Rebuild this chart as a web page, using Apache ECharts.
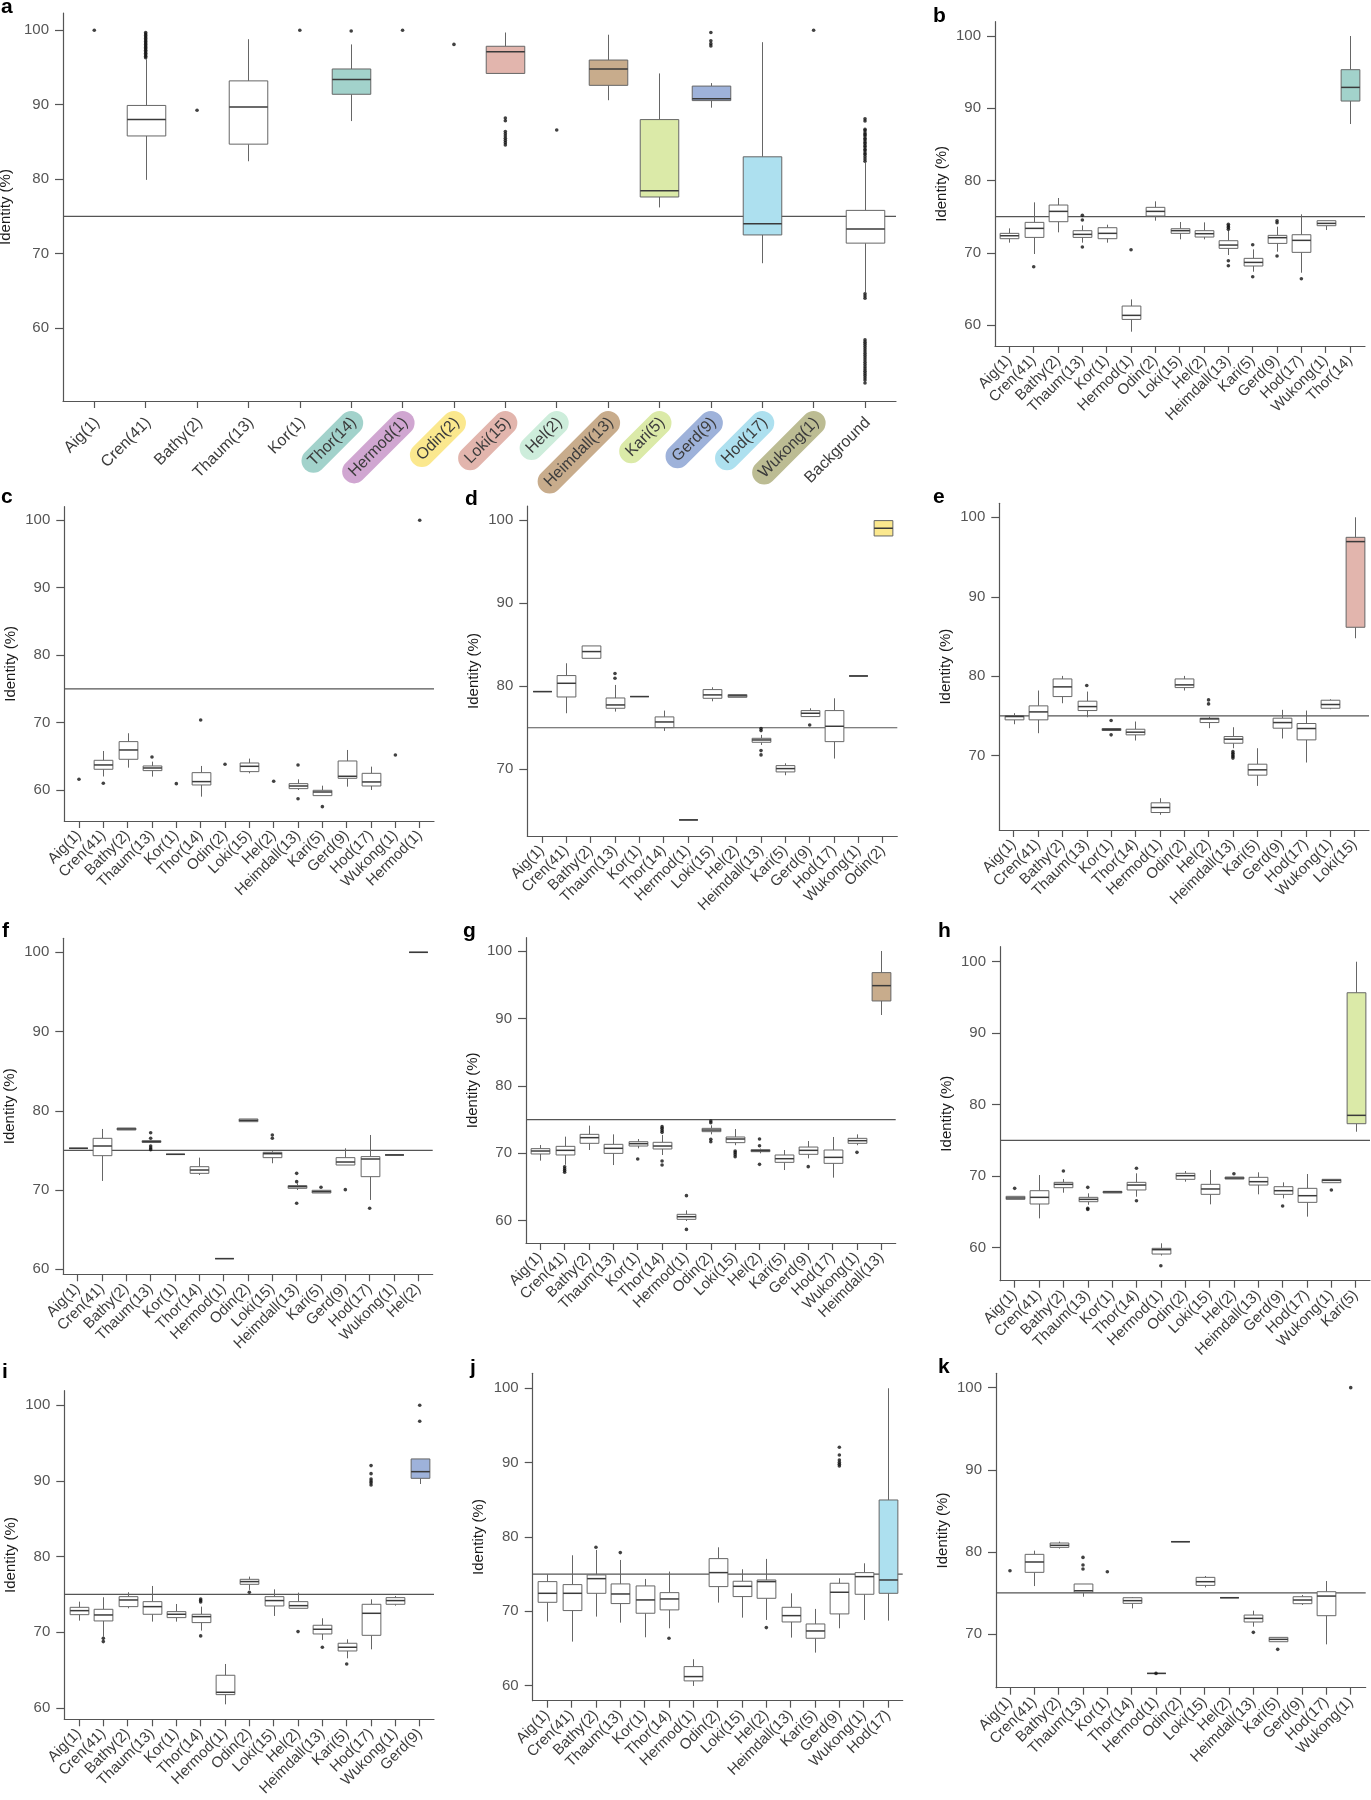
<!DOCTYPE html>
<html><head><meta charset="utf-8">
<script src="https://cdn.jsdelivr.net/npm/echarts@6/dist/echarts.min.js"></script>
<style>html,body{margin:0;padding:0;background:#fff}#c{width:1371px;height:1800px}</style>
</head><body><div id="c"></div>
<script>
const FONT = "'Liberation Sans', Arial, Helvetica, sans-serif";
const yTickValues = [60, 70, 80, 90, 100];
const thresholdLine = 75;

// ---------- panel a ----------
const aCats = ['Aig(1)','Cren(41)','Bathy(2)','Thaum(13)','Kor(1)','Thor(14)','Hermod(1)','Odin(2)','Loki(15)','Hel(2)','Heimdall(13)','Kari(5)','Gerd(9)','Hod(17)','Wukong(1)','Background'];
// [lower whisker, Q1, median, Q3, upper whisker]; null = no box
const aStats = [null,[79.9,85.8,88.0,89.9,96.1],null,[82.4,84.7,89.7,93.2,98.8],null,[87.8,91.4,93.4,94.8,98.1],null,null,[94.2,94.2,97.1,97.85,99.7],null,[90.6,92.6,94.8,96.0,99.4],[76.2,77.6,78.45,88.0,94.2],[89.6,90.55,90.8,92.5,92.9],[68.7,72.5,74.0,83.0,98.4],null,[64.8,71.4,73.3,75.8,82.2]];
const aOut = [[100],[96.3,96.5,96.7,96.9,97.1,97.3,97.5,97.7,97.9,98.1,98.3,98.5,98.7,98.9,99.1,99.3,99.5,99.7],[89.25],[],[100],[99.9],[100],[98.1],[88.2,87.85,86.4,86.1,85.8,85.5,85.2,84.9,84.6],[86.6],[],[],[99.7,98.6,98.2,97.9],[],[100],[88.1,87.8,86.7,86.5,86.2,86.0,85.8,85.5,85.3,85.0,84.8,84.5,84.3,84.0,83.8,83.5,83.3,83.0,82.7,82.4,64.6,64.3,64.0,58.4,58.1,57.8,57.5,57.2,56.9,56.6,56.3,56.0,55.7,55.4,55.1,54.8,54.5,54.2,53.9,53.6,53.3,53.0,52.6]];

// ---------- panel b ----------
const bCats = ['Aig(1)','Cren(41)','Bathy(2)','Thaum(13)','Kor(1)','Hermod(1)','Odin(2)','Loki(15)','Hel(2)','Heimdall(13)','Kari(5)','Gerd(9)','Hod(17)','Wukong(1)','Thor(14)'];
const bStats = [[71.4,71.95,72.36,72.69,73.38],[69.83,72.13,73.38,74.21,76.98],[72.83,74.3,75.73,76.61,77.58],[71.4,72.13,72.55,73.06,73.79],[71.4,71.95,72.69,73.47,73.89],[59.08,60.78,61.34,62.63,63.55],[74.44,75.09,75.73,76.29,77.12],[71.86,72.69,73.06,73.33,74.26],[71.86,72.18,72.64,73.06,74.21],[69.69,70.61,71.07,71.67,73.06],[67.38,68.17,68.67,69.23,70.47],[70.15,71.3,72.09,72.41,73.61],[67.24,70.06,71.72,72.5,75.32],[73.15,73.75,74.07,74.44,74.44],[87.82,91.0,92.89,95.34,100]];
const bOut = [[],[68.07],[],[75.18,74.53,70.8],[],[70.43],[],[],[],[73.94,73.7,73.5,73.24,68.9,68.21],[71.12,66.69],[74.44,74.16,69.55],[66.41],[],[]];

// ---------- panel c ----------
const cCats = ['Aig(1)','Cren(41)','Bathy(2)','Thaum(13)','Kor(1)','Thor(14)','Odin(2)','Loki(15)','Hel(2)','Heimdall(13)','Kari(5)','Gerd(9)','Hod(17)','Wukong(1)','Hermod(1)'];
const cStats = [null,[62.0,63.07,63.71,64.4,65.78],[63.31,64.55,65.93,67.17,68.41],[61.98,62.87,63.26,63.56,64.2],null,[59.01,60.74,61.24,62.57,63.56],null,[62.47,62.72,63.51,64.0,64.65],null,[60.0,60.2,60.59,60.94,61.58],[59.16,59.16,59.7,59.95,60.64],[60.49,61.73,62.03,64.3,65.93],[60.0,60.59,61.19,62.47,63.46],null,null];
const cOut = [[61.58],[60.99],[],[64.89],[60.94],[70.38],[63.81],[],[61.29],[63.71,58.71],[57.53],[],[],[65.19],[100]];

// ---------- panel d ----------
const dCats = ['Aig(1)','Cren(41)','Bathy(2)','Thaum(13)','Kor(1)','Thor(14)','Hermod(1)','Loki(15)','Hel(2)','Heimdall(13)','Kari(5)','Gerd(9)','Hod(17)','Wukong(1)','Odin(2)'];
const dStats = [[79.36,79.36,79.36,79.36,79.36],[76.75,78.71,80.36,81.29,82.77],[83.37,83.37,84.18,84.86,84.86],[76.95,77.35,77.75,78.59,80.16],[78.76,78.76,78.76,78.76,78.76],[74.62,75.02,75.7,76.31,77.07],[63.9,63.9,63.9,63.9,63.9],[78.19,78.55,78.96,79.6,79.88],[78.67,78.67,78.85,79.0,79.0],[72.93,73.25,73.53,73.73,74.14],[69.28,69.68,70.08,70.44,70.72],[76.35,76.35,76.75,77.07,77.35],[71.29,73.33,75.18,77.07,78.55],[81.24,81.24,81.24,81.24,81.24],[98.11,98.11,99.04,99.96,99.96]];
const dOut = [[],[],[],[81.53,80.96],[],[],[],[],[],[74.9,74.66,72.25,71.73],[],[75.34],[],[],[]];

// ---------- panel e ----------
const eCats = ['Aig(1)','Cren(41)','Bathy(2)','Thaum(13)','Kor(1)','Thor(14)','Hermod(1)','Odin(2)','Hel(2)','Heimdall(13)','Kari(5)','Gerd(9)','Hod(17)','Wukong(1)','Loki(15)'];
const eStats = [[73.96,74.51,74.93,75.05,75.35],[72.83,74.51,75.51,76.27,78.2],[76.6,77.44,78.66,79.66,80.04],[74.84,75.68,76.18,76.86,78.07],[73.17,73.17,73.29,73.42,73.42],[71.91,72.62,72.96,73.33,74.3],[62.56,62.85,63.48,64.07,64.65],[78.2,78.57,78.91,79.66,80.04],[73.46,74.17,74.63,74.72,74.9],[70.94,71.57,72.08,72.41,73.58],[66.2,67.55,68.22,68.93,70.94],[72.16,73.46,74.17,74.72,75.77],[69.14,71.99,73.42,74.05,75.68],[75.85,75.97,76.44,76.98,77.1],[84.78,86.16,96.94,97.48,100]];
const eOut = [[],[],[],[78.83],[74.42,72.62],[],[],[],[77.02,76.52],[70.52,70.3,70.1,69.9,69.7],[],[],[],[],[]];

// ---------- panel f ----------
const fCats = ['Aig(1)','Cren(41)','Bathy(2)','Thaum(13)','Kor(1)','Thor(14)','Hermod(1)','Odin(2)','Loki(15)','Heimdall(13)','Kari(5)','Gerd(9)','Hod(17)','Wukong(1)','Hel(2)'];
const fStats = [[75.27,75.27,75.27,75.27,75.27],[71.15,74.34,75.56,76.53,77.71],[77.58,77.58,77.71,77.83,77.83],[76.02,76.02,76.11,76.23,76.23],[74.51,74.51,74.51,74.51,74.51],[71.9,72.11,72.53,72.95,74.09],[61.35,61.35,61.35,61.35,61.35],[78.63,78.63,78.8,78.97,78.97],[73.38,74.09,74.59,74.76,74.9],[70.01,70.22,70.43,70.56,70.85],[69.63,69.63,69.8,69.97,69.97],[73.16,73.16,73.54,74.09,75.27],[68.75,71.69,73.92,74.22,76.95],[74.43,74.43,74.43,74.43,74.43],[100,100,100,100,100]];
const fOut = [[],[],[],[77.24,76.53,75.56,75.3,75.1],[],[],[],[],[76.95,76.53],[72.11,71.06,68.33],[70.35],[70.05],[67.7],[],[]];

// ---------- panel g ----------
const gCats = ['Aig(1)','Cren(41)','Bathy(2)','Thaum(13)','Kor(1)','Thor(14)','Hermod(1)','Odin(2)','Loki(15)','Hel(2)','Kari(5)','Gerd(9)','Hod(17)','Wukong(1)','Heimdall(13)'];
const gStats = [[68.91,69.9,70.34,70.69,71.23],[68.3,69.75,70.44,71.03,72.47],[70.49,71.48,72.32,72.81,74.1],[68.26,69.99,70.74,71.33,72.81],[70.74,71.08,71.43,71.72,72.12],[69.75,70.64,71.08,71.63,72.71],[59.96,60.21,60.6,60.95,61.54],[72.81,73.21,73.45,73.7,74.15],[71.2,71.58,72.12,72.42,73.6],[70.0,70.24,70.39,70.54,70.7],[67.52,68.66,69.2,69.75,70.49],[69.25,69.85,70.44,70.93,71.82],[66.39,68.51,69.4,70.49,72.42],[71.2,71.48,71.87,72.22,72.81],[90.51,92.59,94.86,96.79,100]];
const gOut = [[],[68.0,67.7,67.45,67.2],[],[],[69.15],[73.95,73.7,73.4,73.11,68.86,68.26],[63.72,58.72],[74.79,74.54,72.07,71.72],[70.34,70.1,69.8,69.5],[72.12,71.13,68.36],[],[68.02],[],[70.14],[]];

// ---------- panel h ----------
const hCats = ['Aig(1)','Cren(41)','Bathy(2)','Thaum(13)','Kor(1)','Thor(14)','Hermod(1)','Odin(2)','Loki(15)','Hel(2)','Heimdall(13)','Gerd(9)','Hod(17)','Wukong(1)','Kari(5)'];
const hStats = [[66.76,66.76,66.95,67.18,67.18],[64.1,66.11,67.04,67.97,70.16],[67.69,68.39,68.86,69.14,69.6],[66.0,66.43,66.76,67.04,67.6],[67.65,67.65,67.79,67.88,67.88],[67.13,68.07,68.76,69.14,70.4],[58.9,59.11,59.72,59.91,60.61],[69.23,69.56,70.07,70.4,70.72],[66.06,67.46,68.21,68.86,70.86],[69.6,69.6,69.74,69.88,69.88],[67.46,68.76,69.23,69.84,70.54],[66.9,67.46,67.97,68.53,69.14],[64.34,66.34,67.27,68.3,70.3],[69.09,69.09,69.42,69.56,69.56],[76.22,77.34,78.51,95.66,100]];
const hOut = [[68.3],[],[70.72],[68.44,65.5,65.35],[],[71.1,66.57],[57.48],[],[],[70.35],[],[65.83],[],[68.07],[]];

// ---------- panel i ----------
const iCats = ['Aig(1)','Cren(41)','Bathy(2)','Thaum(13)','Kor(1)','Thor(14)','Hermod(1)','Odin(2)','Loki(15)','Hel(2)','Heimdall(13)','Kari(5)','Hod(17)','Wukong(1)','Gerd(9)'];
const iStats = [[71.54,72.33,72.86,73.3,74.05],[69.43,71.5,72.29,73.04,74.63],[73.17,73.39,74.27,74.71,75.29],[71.41,72.38,73.39,74.05,76.12],[71.41,71.94,72.38,72.73,73.74],[70.22,71.28,72.07,72.38,73.39],[60.48,61.76,62.07,64.32,65.81],[75.6,76.34,76.7,77.0,77.36],[72.16,73.48,74.19,74.71,75.68],[73.17,73.17,73.52,74.05,75.24],[68.99,69.78,70.4,70.93,71.85],[66.56,67.53,68.02,68.55,69.07],[67.75,69.6,72.51,73.7,74.36],[73.52,73.7,74.19,74.58,74.8],[89.6,90.35,91.23,92.91,92.91]];
const iOut = [[],[69.2,68.77],[],[],[],[74.4,74.2,74.0,69.52],[],[75.29],[],[70.09],[68.02],[65.81],[92.03,90.97,90.26,90.0,89.75,89.47],[],[100,97.89]];

// ---------- panel j ----------
const jCats = ['Aig(1)','Cren(41)','Bathy(2)','Thaum(13)','Kor(1)','Thor(14)','Hermod(1)','Odin(2)','Loki(15)','Hel(2)','Heimdall(13)','Kari(5)','Gerd(9)','Wukong(1)','Hod(17)'];
const jStats = [[68.61,71.2,72.41,73.98,74.97],[65.92,70.09,72.41,73.58,77.52],[69.28,72.41,74.38,74.88,78.24],[68.47,71.03,72.32,73.67,76.89],[66.5,69.73,71.52,73.4,74.34],[67.71,70.18,71.65,72.5,75.33],[59.96,60.64,61.22,62.56,63.55],[71.16,73.31,75.19,77.07,78.59],[69.14,71.97,73.35,74.03,75.64],[68.83,71.74,73.98,74.2,77.03],[66.46,68.56,69.41,70.53,72.41],[64.44,66.37,67.35,68.29,70.31],[67.71,69.64,72.55,73.76,74.43],[68.83,72.28,74.65,75.19,76.44],[68.74,72.41,74.2,84.95,99.96]];
const jOut = [[],[],[78.59],[77.88],[],[66.37],[],[],[],[67.8],[],[],[92.03,91.0,90.33,90.0,89.75,89.52],[],[]];

// ---------- panel k ----------
const kCats = ['Aig(1)','Cren(41)','Bathy(2)','Thaum(13)','Kor(1)','Thor(14)','Hermod(1)','Odin(2)','Loki(15)','Hel(2)','Heimdall(13)','Kari(5)','Gerd(9)','Hod(17)','Wukong(1)'];
const kStats = [null,[75.84,77.51,78.77,79.7,80.15],[80.4,80.55,80.8,81.08,81.25],[74.54,75.07,75.27,76.09,76.09],null,[73.12,73.73,74.06,74.42,74.5],[65.2,65.2,65.2,65.2,65.2],[81.24,81.24,81.24,81.24,81.24],[75.68,75.92,76.37,76.9,77.06],[74.42,74.42,74.42,74.42,74.42],[70.89,71.46,71.9,72.31,72.84],[69.06,69.06,69.35,69.59,69.59],[73.53,73.69,74.14,74.54,74.75],[68.74,72.23,74.62,75.15,76.45],null];
const kOut = [[77.71],[],[],[79.33,78.4,77.91],[77.59],[],[65.2],[],[],[],[70.2],[68.13],[],[],[100]];

// ---------- styling / layout ----------
const groupColors = {Thor:'#a2d2cb', Hermod:'#d0a6d1', Odin:'#fbe88e', Loki:'#e2b5ad', Hel:'#cdeddb', Heimdall:'#c8ac8c', Kari:'#dbeaa8', Gerd:'#9eb2da', Hod:'#ade0ef', Wukong:'#bcbc93'};
const layout = {
 a:{axisX:63, xEnd:896, top:13, bottom:401, min:50.19, max:102.32, bandL:68.6, bandR:890.7, letter:[1,13]},
 b:{axisX:995, xEnd:1365, top:21.7, bottom:346, min:57.1, max:101.98, bandL:997.2, bandR:1362.2, letter:[933,22]},
 c:{axisX:64.3, xEnd:434, top:506.7, bottom:821, min:55.4, max:102.0, bandL:66.8, bandR:431.9, letter:[1,503]},
 d:{axisX:527.3, xEnd:897.3, top:506, bottom:836, min:61.96, max:101.72, bandL:529.8, bandR:894.9, letter:[465,505]},
 e:{axisX:999.3, xEnd:1369, top:503.3, bottom:830, min:60.65, max:101.76, bandL:1001.5, bandR:1366.9, letter:[933,503]},
 f:{axisX:63.3, xEnd:432.7, top:938.3, bottom:1274.3, min:59.37, max:101.77, bandL:65.5, bandR:430.5, letter:[2,937]},
 g:{axisX:526, xEnd:895.7, top:937.7, bottom:1243, min:56.7, max:101.97, bandL:528.1, bandR:893.5, letter:[463,937]},
 h:{axisX:1000, xEnd:1370, top:946.7, bottom:1280.7, min:55.38, max:102.1, bandL:1002.5, bandR:1367.9, letter:[938,937]},
 i:{axisX:64.3, xEnd:434, top:1390.7, bottom:1719.3, min:58.5, max:101.93, bandL:66.8, bandR:431.9, letter:[2,1378]},
 j:{axisX:532.7, xEnd:902.7, top:1373.3, bottom:1700.7, min:57.98, max:101.97, bandL:535.1, bandR:900.2, letter:[470,1374]},
 k:{axisX:996, xEnd:1365.7, top:1373.3, bottom:1687.7, min:63.46, max:101.75, bandL:997.8, bandR:1362.9, letter:[938,1373]}
};
const panels = [
 {id:'a', cats:aCats, stats:aStats, out:aOut},
 {id:'b', cats:bCats, stats:bStats, out:bOut},
 {id:'c', cats:cCats, stats:cStats, out:cOut},
 {id:'d', cats:dCats, stats:dStats, out:dOut},
 {id:'e', cats:eCats, stats:eStats, out:eOut},
 {id:'f', cats:fCats, stats:fStats, out:fOut},
 {id:'g', cats:gCats, stats:gStats, out:gOut},
 {id:'h', cats:hCats, stats:hStats, out:hOut},
 {id:'i', cats:iCats, stats:iStats, out:iOut},
 {id:'j', cats:jCats, stats:jStats, out:jOut},
 {id:'k', cats:kCats, stats:kStats, out:kOut}
];

const AXIS = '#555';
const BOX = '#666';
const MED = '#3a3a3a';
const LABEL = '#3c3c3c';
function baseName(c){ return c.replace(/\(.*$/, ''); }
function fillFor(p, i){
  const g = baseName(p.cats[i]);
  if (p.id === 'a') return groupColors[g] || '#fff';
  return (i === p.cats.length - 1 && groupColors[g]) ? groupColors[g] : '#fff';
}
function makeBoxRenderer(fills, frac){
  return function(params, api){
    const i = api.value(0);
    const lo = api.value(1), q1 = api.value(2), md = api.value(3), q3 = api.value(4), hi = api.value(5);
    const bw = api.size([1, 0])[0] * frac;
    const pLo = api.coord([i, lo]), pQ1 = api.coord([i, q1]), pMd = api.coord([i, md]), pQ3 = api.coord([i, q3]), pHi = api.coord([i, hi]);
    const x = Math.round(pMd[0]) + 0.5;
    const ch = [];
    if (hi > q3) ch.push({type:'line', shape:{x1:x, y1:pQ3[1], x2:x, y2:pHi[1]}, style:{stroke:BOX, lineWidth:1}});
    if (lo < q1) ch.push({type:'line', shape:{x1:x, y1:pQ1[1], x2:x, y2:pLo[1]}, style:{stroke:BOX, lineWidth:1}});
    ch.push({type:'rect', shape:{x:x - bw/2, y:pQ3[1], width:bw, height:pQ1[1] - pQ3[1]}, style:{fill:fills[params.dataIndex], stroke:BOX, lineWidth:1}});
    ch.push({type:'line', shape:{x1:x - bw/2, y1:pMd[1], x2:x + bw/2, y2:pMd[1]}, style:{stroke:MED, lineWidth:1.5}});
    return {type:'group', children:ch};
  };
}

const richA = {p:{padding:[4,8,4,8], fontSize:16, color:LABEL, fontFamily:FONT}};
Object.keys(groupColors).forEach(g => {
  richA[g.toLowerCase()] = {padding:[4,8,4,8], fontSize:16, color:LABEL, fontFamily:FONT, backgroundColor:groupColors[g], borderRadius:12};
});

const option = {animation:false, backgroundColor:'#fff', grid:[], xAxis:[], yAxis:[], series:[], graphic:[]};

panels.forEach(p => {
  const L = layout[p.id];
  const gA = option.grid.length, gB = gA + 1;
  const hgt = L.bottom - L.top;
  option.grid.push({left:L.axisX, top:L.top, width:L.xEnd - L.axisX, height:hgt, containLabel:false, outerBoundsMode:'none'});
  option.grid.push({left:L.bandL, top:L.top, width:L.bandR - L.bandL, height:hgt, containLabel:false, outerBoundsMode:'none'});
  const ticks = yTickValues.filter(v => v >= L.min && v <= L.max);
  option.xAxis.push({gridIndex:gA, type:'value', min:0, max:1, axisLine:{show:true, onZero:false, lineStyle:{color:AXIS, width:1.2}}, axisTick:{show:false}, axisLabel:{show:false}, splitLine:{show:false}});
  option.yAxis.push({gridIndex:gA, type:'value', min:L.min, max:L.max, name:'Identity (%)', nameLocation:'middle', nameGap:46,
    nameTextStyle:{fontSize:15, color:'#1a1a1a', fontFamily:FONT},
    axisLine:{show:true, onZero:false, lineStyle:{color:AXIS, width:1.2}},
    axisTick:{show:true, length:8, customValues:ticks, lineStyle:{color:AXIS, width:1.2}},
    axisLabel:{customValues:ticks, margin:14, fontSize:15, color:'#555', fontFamily:FONT},
    splitLine:{show:false}});
  const isA = p.id === 'a';
  const xLabel = isA ? {
      rotate:45, interval:0, hideOverlap:false, margin:5, padding:[24,0,0,0],
      formatter: v => { const g = baseName(v); return '{' + (groupColors[g] ? g.toLowerCase() : 'p') + '|' + v + '}'; },
      rich:richA, fontSize:16, color:LABEL, fontFamily:FONT
    } : {
      rotate:45, interval:0, hideOverlap:false, margin:12, padding:[20,0,0,0],
      fontSize:15, color:LABEL, fontFamily:FONT
    };
  option.xAxis.push({gridIndex:gB, type:'category', data:p.cats, boundaryGap:true, axisLine:{show:false},
    axisTick:{show:true, alignWithLabel:true, length:7, lineStyle:{color:AXIS, width:1.2}},
    axisLabel:xLabel, splitLine:{show:false}});
  option.yAxis.push({gridIndex:gB, type:'value', min:L.min, max:L.max, show:false});
  option.series.push({type:'line', xAxisIndex:gA, yAxisIndex:gA, data:[[0, thresholdLine],[1, thresholdLine]], symbol:'none', lineStyle:{color:AXIS, width:1.2}, silent:true, z:1});
  const boxData = [], fills = [];
  p.stats.forEach((s, i) => { if (!s) return; boxData.push([i].concat(s)); fills.push(fillFor(p, i)); });
  option.series.push({type:'custom', xAxisIndex:gB, yAxisIndex:gB, data:boxData, renderItem:makeBoxRenderer(fills, isA ? 0.75 : 0.77), silent:true, z:3, encode:{x:0, y:[1,2,3,4,5]}});
  const dots = [];
  p.out.forEach((arr, i) => arr.forEach(v => dots.push([i, v])));
  option.series.push({type:'scatter', xAxisIndex:gB, yAxisIndex:gB, data:dots, symbol:'circle', symbolSize:3.6, itemStyle:{color:'#111'}, silent:true, z:4});
  option.graphic.push({type:'text', x:L.letter[0], y:L.letter[1] - 6, style:{text:p.id, font:'bold 21px ' + FONT, fill:'#000', verticalAlign:'middle'}});
});

const chart = echarts.init(document.getElementById('c'), null, {renderer:'canvas', width:1371, height:1800});
chart.setOption(option);
</script></body></html>
